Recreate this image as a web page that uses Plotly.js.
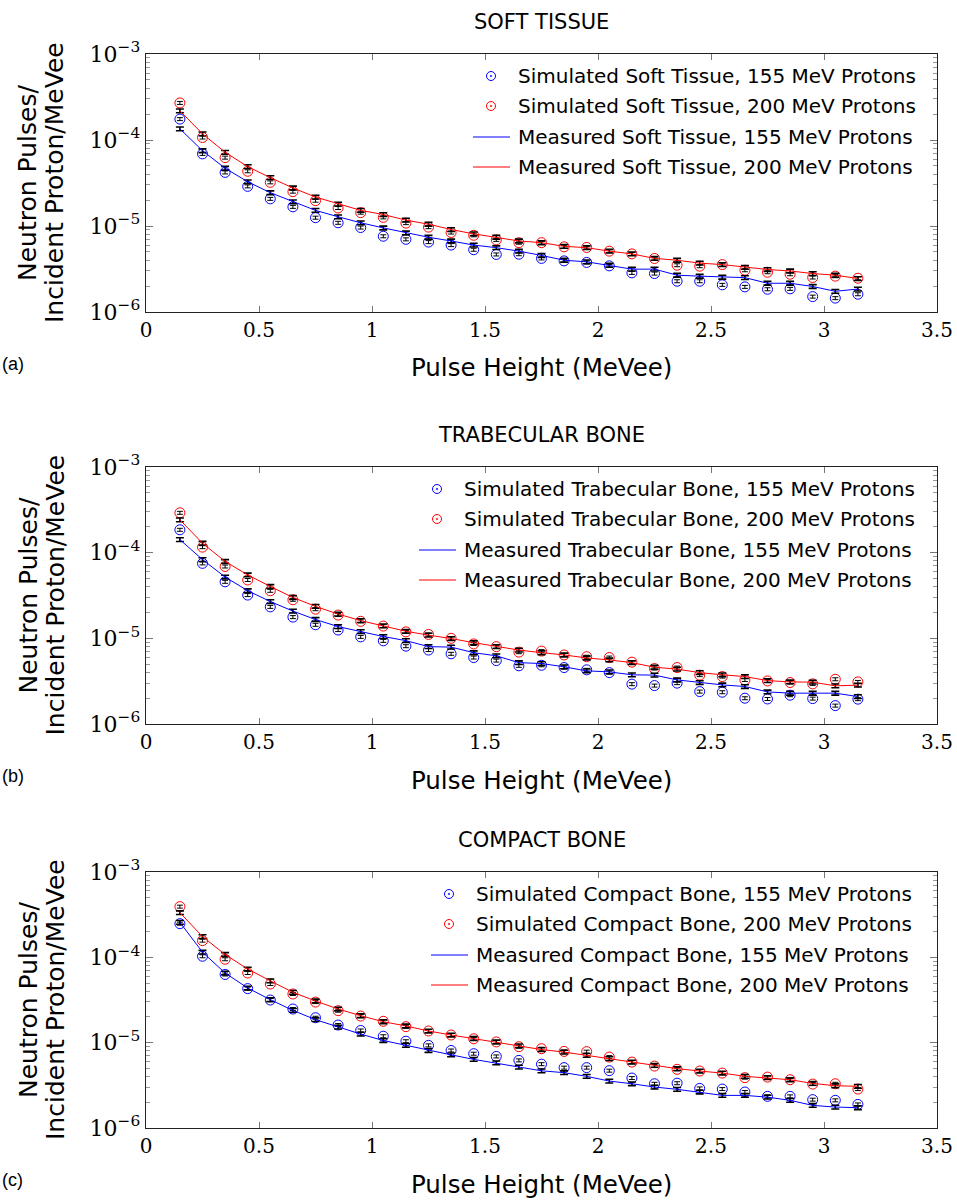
<!DOCTYPE html>
<html><head><meta charset="utf-8">
<script src="https://cdn.plot.ly/plotly-3.0.1.min.js"></script>
<style>html,body{margin:0;padding:0;background:#fff}#chart{width:957px;height:1201px}</style>
</head><body><div id="chart"></div>
<script>
// ---- data ----
const pulseHeight = [0.15,0.25,0.35,0.45,0.55,0.65,0.75,0.85,0.95,1.05,1.15,1.25,1.35,1.45,1.55,1.65,1.75,1.85,1.95,2.05,2.15,2.25,2.35,2.45,2.55,2.65,2.75,2.85,2.95,3.05,3.15];

const softSim155 = [1.75e-4,6.9e-5,4.2e-5,2.89e-5,2.07e-5,1.67e-5,1.25e-5,1.09e-5,9.6e-6,7.6e-6,7.0e-6,6.5e-6,6.0e-6,5.3e-6,4.67e-6,4.7e-6,4.2e-6,3.93e-6,3.77e-6,3.44e-6,2.85e-6,2.8e-6,2.28e-6,2.28e-6,2.07e-6,1.96e-6,1.84e-6,1.86e-6,1.51e-6,1.45e-6,1.61e-6];
const softSim200 = [2.70e-4,1.07e-4,6.24e-5,4.33e-5,3.22e-5,2.51e-5,1.97e-5,1.62e-5,1.43e-5,1.26e-5,1.08e-5,9.7e-6,8.4e-6,7.8e-6,6.9e-6,6.4e-6,6.4e-6,5.73e-6,5.63e-6,5.1e-6,4.74e-6,4.19e-6,3.5e-6,3.41e-6,3.56e-6,3.06e-6,2.9e-6,2.75e-6,2.52e-6,2.61e-6,2.47e-6];
const softMeas155 = [1.35e-4,7.5e-5,4.7e-5,3.27e-5,2.44e-5,1.91e-5,1.52e-5,1.28e-5,1.09e-5,9.5e-6,8.3e-6,7.4e-6,6.7e-6,6.0e-6,5.6e-6,5.1e-6,4.55e-6,4.0e-6,3.83e-6,3.5e-6,3.15e-6,3.15e-6,2.68e-6,2.61e-6,2.54e-6,2.51e-6,2.16e-6,2.16e-6,1.98e-6,1.74e-6,1.85e-6];
const softMeas200 = [2.18e-4,1.18e-4,7.2e-5,4.9e-5,3.65e-5,2.77e-5,2.17e-5,1.8e-5,1.52e-5,1.36e-5,1.17e-5,1.05e-5,9.1e-6,8.1e-6,7.4e-6,6.7e-6,6.4e-6,5.8e-6,5.6e-6,5.1e-6,4.74e-6,4.2e-6,4.0e-6,3.7e-6,3.56e-6,3.3e-6,3.12e-6,3.0e-6,2.8e-6,2.68e-6,2.45e-6];

const trabSim155 = [1.85e-4,7.5e-5,4.57e-5,3.2e-5,2.33e-5,1.77e-5,1.44e-5,1.25e-5,1.04e-5,9.35e-6,8.1e-6,7.3e-6,6.6e-6,5.97e-6,5.5e-6,4.78e-6,4.85e-6,4.56e-6,4.29e-6,3.98e-6,2.92e-6,2.81e-6,3.0e-6,2.39e-6,2.35e-6,2.0e-6,1.96e-6,2.17e-6,1.98e-6,1.64e-6,1.95e-6];
const trabSim200 = [2.92e-4,1.16e-4,6.9e-5,4.8e-5,3.59e-5,2.82e-5,2.19e-5,1.87e-5,1.58e-5,1.39e-5,1.19e-5,1.11e-5,1.0e-5,8.6e-6,8.0e-6,6.9e-6,7.1e-6,6.4e-6,6.1e-6,5.97e-6,5.27e-6,4.44e-6,4.56e-6,3.72e-6,3.58e-6,3.27e-6,3.18e-6,3.05e-6,2.94e-6,3.33e-6,3.1e-6];
const trabMeas155 = [1.42e-4,8.3e-5,5.2e-5,3.6e-5,2.69e-5,2.08e-5,1.66e-5,1.37e-5,1.2e-5,1.05e-5,9.4e-6,8.0e-6,7.9e-6,6.8e-6,6.25e-6,5.2e-6,5.08e-6,4.65e-6,4.17e-6,4.06e-6,3.75e-6,3.72e-6,3.27e-6,3.05e-6,2.86e-6,2.74e-6,2.37e-6,2.29e-6,2.29e-6,2.29e-6,2.09e-6];
const trabMeas200 = [2.42e-4,1.29e-4,7.9e-5,5.5e-5,4.03e-5,3.0e-5,2.36e-5,1.92e-5,1.61e-5,1.4e-5,1.21e-5,1.09e-5,9.95e-6,8.9e-6,8.0e-6,7.3e-6,6.8e-6,6.4e-6,5.9e-6,5.6e-6,5.2e-6,4.6e-6,4.37e-6,3.98e-6,3.75e-6,3.58e-6,3.21e-6,3.1e-6,3.08e-6,2.79e-6,2.84e-6];

const compSim155 = [2.48e-4,1.03e-4,6.3e-5,4.3e-5,3.16e-5,2.48e-5,1.96e-5,1.61e-5,1.39e-5,1.19e-5,1.04e-5,9.3e-6,8.1e-6,7.43e-6,6.9e-6,6.2e-6,5.6e-6,5.1e-6,5.1e-6,4.7e-6,3.85e-6,3.3e-6,3.35e-6,2.91e-6,2.86e-6,2.64e-6,2.35e-6,2.35e-6,2.15e-6,2.11e-6,1.89e-6];
const compSim200 = [3.93e-4,1.57e-4,9.5e-5,6.55e-5,4.87e-5,3.72e-5,2.99e-5,2.37e-5,2.05e-5,1.78e-5,1.54e-5,1.37e-5,1.23e-5,1.11e-5,1.02e-5,8.97e-6,8.5e-6,7.9e-6,7.85e-6,6.78e-6,5.92e-6,5.32e-6,4.87e-6,4.65e-6,4.4e-6,3.89e-6,3.95e-6,3.68e-6,3.27e-6,3.3e-6,2.86e-6];
const compMeas155 = [2.57e-4,1.15e-4,6.55e-5,4.37e-5,3.19e-5,2.39e-5,1.86e-5,1.52e-5,1.26e-5,1.06e-5,9.3e-6,8.1e-6,7.2e-6,6.37e-6,5.8e-6,5.18e-6,4.68e-6,4.45e-6,4.03e-6,3.55e-6,3.3e-6,3.02e-6,2.84e-6,2.64e-6,2.41e-6,2.41e-6,2.3e-6,2.11e-6,1.84e-6,1.76e-6,1.73e-6];
const compMeas200 = [3.34e-4,1.75e-4,1.08e-4,7.3e-5,5.3e-5,3.89e-5,3.08e-5,2.48e-5,2.07e-5,1.76e-5,1.57e-5,1.37e-5,1.23e-5,1.12e-5,1.02e-5,9.2e-6,8.3e-6,7.76e-6,7.1e-6,6.5e-6,5.92e-6,5.42e-6,4.96e-6,4.65e-6,4.4e-6,4.03e-6,3.89e-6,3.68e-6,3.33e-6,3.13e-6,3.08e-6];

const panelTitles = ["SOFT TISSUE","TRABECULAR BONE","COMPACT BONE"];
const materialNames = ["Soft Tissue","Trabecular Bone","Compact Bone"];
const panelLetters = ["(a)","(b)","(c)"];
const xTickVals = [0,0.5,1,1.5,2,2.5,3,3.5];
const xTickText = ["0","0.5","1","1.5","2","2.5","3","3.5"];
const yTickVals = [1e-6,1e-5,1e-4,1e-3];
const yTickText = ["10<sup>−6</sup>","10<sup>−5</sup>","10<sup>−4</sup>","10<sup>−3</sup>"];
const xTitle = "Pulse Height (MeVee)";
const yTitleLines = ["Neutron Pulses/","Incident Proton/MeVee"];

const panels = [
  {sim155: softSim155, sim200: softSim200, meas155: softMeas155, meas200: softMeas200},
  {sim155: trabSim155, sim200: trabSim200, meas155: trabMeas155, meas200: trabMeas200},
  {sim155: compSim155, sim200: compSim200, meas155: compMeas155, meas200: compMeas200}
];

// ---- layout geometry (pixels) ----
const W = 957, H = 1201;
const L = 146, R = 937, T = 54, B = 1128;
const px2x = p => (p - L) / (R - L);
const py2y = p => (B - p) / (B - T);
const boxes = [[54,312],[467,724],[872,1128]];
const legendTextX = [516, 462, 474];
const legendRowOffsets = [22, 52, 83, 113];
const BLUE = 'rgb(0,0,255)', RED = 'rgb(255,0,0)';
const SANS = '"DejaVu Sans", sans-serif';
const SERIF = '"DejaVu Serif", serif';

const traces = [];
const layout = {
  width: W, height: H, showlegend: false,
  margin: {l: L, r: W - R, t: T, b: H - B},
  paper_bgcolor: '#fff', plot_bgcolor: '#fff',
  font: {family: SANS, color: '#000'},
  annotations: [], shapes: []
};

// minor ticks
const minorVals = [];
[1e-6,1e-5,1e-4].forEach(d => { for (let k = 2; k <= 9; k++) minorVals.push(k*d); });

panels.forEach((p, i) => {
  const xa = i === 0 ? 'x' : 'x' + (i+1);
  const ya = i === 0 ? 'y' : 'y' + (i+1);
  const name = materialNames[i];
  const [top, bot] = boxes[i];
  const entries = [];
  const mk = (yv, color, nm, kind) => {
    const t = {x: pulseHeight, y: yv, xaxis: xa, yaxis: ya, name: nm, type: 'scatter'};
    if (kind === 'sim') {
      t.mode = 'markers';
      t.marker = {symbol: 'circle-open', size: 10, color: color, line: {width: 1, color: color}};
      t.error_y = {type: 'percent', value: 4, color: '#000', thickness: 1, width: 3};
    } else {
      t.mode = 'lines';
      t.line = {color: color, width: 1};
      t.error_y = {type: 'percent', value: 5, color: '#000', thickness: 1.6, width: 4};
    }
    traces.push(t);
    entries.push({nm, color, kind});
  };
  mk(p.sim155, BLUE, 'Simulated ' + name + ', 155 MeV Protons', 'sim');
  mk(p.sim200, RED, 'Simulated ' + name + ', 200 MeV Protons', 'sim');
  mk(p.meas155, BLUE, 'Measured ' + name + ', 155 MeV Protons', 'meas');
  mk(p.meas200, RED, 'Measured ' + name + ', 200 MeV Protons', 'meas');

  // legend (drawn as shapes + text)
  entries.forEach((e, k) => {
    const yc = top + legendRowOffsets[k];
    const tx = legendTextX[i];
    if (e.kind === 'sim') {
      const cx = tx - 25, r = 4.5;
      layout.shapes.push({type: 'circle', xref: 'paper', yref: 'paper',
        x0: px2x(cx - r), x1: px2x(cx + r), y0: py2y(yc + r), y1: py2y(yc - r),
        line: {color: e.color, width: 1}, fillcolor: 'rgba(0,0,0,0)'});
      layout.shapes.push({type: 'circle', xref: 'paper', yref: 'paper',
        x0: px2x(cx - 0.8), x1: px2x(cx + 0.8), y0: py2y(yc + 0.8), y1: py2y(yc - 0.8),
        line: {color: e.color, width: 0.5}, fillcolor: e.color});
    } else {
      layout.shapes.push({type: 'line', xref: 'paper', yref: 'paper',
        x0: px2x(tx - 43), x1: px2x(tx - 6), y0: py2y(yc), y1: py2y(yc),
        line: {color: e.color, width: 1.2}});
    }
    layout.annotations.push({text: e.nm, xref: 'paper', yref: 'paper', x: px2x(tx), y: py2y(yc),
      xanchor: 'left', yanchor: 'middle', showarrow: false, font: {family: SANS, size: 20, color: '#000'}});
  });

  const xk = i === 0 ? 'xaxis' : 'xaxis' + (i+1);
  const yk = i === 0 ? 'yaxis' : 'yaxis' + (i+1);
  layout[xk] = {
    domain: [0,1], anchor: ya, range: [0,3.5], tickmode: 'array', tickvals: xTickVals, ticktext: xTickText,
    ticks: 'inside', ticklen: 6, tickcolor: '#777', tickwidth: 1, mirror: 'ticks',
    showline: true, linecolor: '#222', linewidth: 1.3, showgrid: false, zeroline: false,
    tickfont: {family: SERIF, size: 20, color: '#000'}
  };
  layout[yk] = {
    domain: [py2y(bot), py2y(top)], anchor: xa, type: 'log', range: [-6,-3],
    tickmode: 'array', tickvals: yTickVals, ticktext: yTickText,
    ticks: 'inside', ticklen: 7, tickcolor: '#777', tickwidth: 1, mirror: 'ticks',
    minor: {tickmode: 'array', tickvals: minorVals, ticks: 'inside', ticklen: 4, tickcolor: '#999', tickwidth: 1},
    showline: true, linecolor: '#222', linewidth: 1.3, showgrid: false, zeroline: false,
    tickfont: {family: SERIF, size: 22, color: '#000'}
  };
  const mid = (top + bot) / 2;
  layout.annotations.push(
    {text: panelTitles[i], xref: 'paper', yref: 'paper', x: 0.5, y: py2y(top - 32), xanchor: 'center', yanchor: 'middle', showarrow: false, font: {family: SANS, size: 21}},
    {text: xTitle, xref: 'paper', yref: 'paper', x: 0.5, y: py2y(bot + 56), xanchor: 'center', yanchor: 'middle', showarrow: false, font: {family: SANS, size: 24.5}},
    {text: yTitleLines[0], xref: 'paper', yref: 'paper', x: px2x(28), y: py2y(mid), xanchor: 'center', yanchor: 'middle', textangle: -90, showarrow: false, font: {family: SANS, size: 25}},
    {text: yTitleLines[1], xref: 'paper', yref: 'paper', x: px2x(55), y: py2y(mid), xanchor: 'center', yanchor: 'middle', textangle: -90, showarrow: false, font: {family: SANS, size: 25}},
    {text: panelLetters[i], xref: 'paper', yref: 'paper', x: px2x(0), y: py2y(bot + 52), xanchor: 'left', yanchor: 'middle', showarrow: false, font: {family: '"Liberation Sans", Arial, sans-serif', size: 18}}
  );
});

Plotly.newPlot('chart', traces, layout, {staticPlot: true});
</script></body></html>
